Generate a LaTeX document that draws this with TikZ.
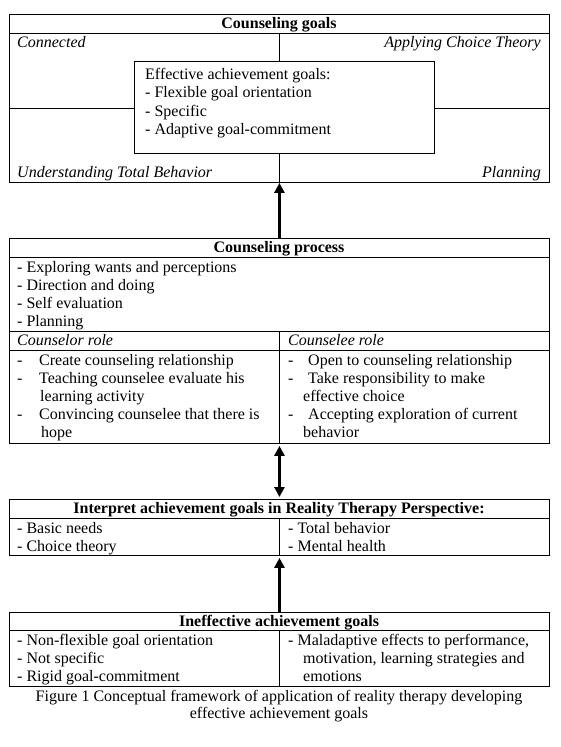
\documentclass[tikz,border=0pt]{standalone}
\usepackage{fontspec}
\setmainfont{Liberation Serif}
\usetikzlibrary{arrows.meta}
\begin{document}
\begin{tikzpicture}[x=1pt,y=-1pt,
  box/.style={draw, line width=0.9pt, inner sep=0pt, anchor=north west},
  rule/.style={line width=0.9pt},
  txt/.style={inner sep=0pt, anchor=base west, font=\fontsize{16}{18}\selectfont},
  txti/.style={inner sep=0pt, anchor=base west, font=\fontsize{16}{18}\selectfont\itshape},
  txtr/.style={inner sep=0pt, anchor=base east, font=\fontsize{16}{18}\selectfont\itshape},
  head/.style={inner sep=0pt, anchor=base, font=\fontsize{16}{18}\selectfont\bfseries},
  captxt/.style={inner sep=0pt, anchor=base, font=\fontsize{16}{18}\selectfont},
  arr/.style={line width=3.5pt, -{Triangle[width=10pt,length=10pt]}},
  darr/.style={line width=3.5pt, {Triangle[width=10pt,length=10pt]}-{Triangle[width=10pt,length=10pt]}}
]
\useasboundingbox (0,0) rectangle (561,747);
\fill[white] (0,0) rectangle (561,747);

% ---------- Box 1: Counseling goals ----------
\node[box, minimum width=540pt, minimum height=168pt] (b1) at (9,14) {};
\node[box, minimum width=300pt, minimum height=92pt] (inner) at (134,61) {};
\draw[rule] (9,33) -- (549,33);
\draw[rule] (279.5,33) -- (279.5,61);
\draw[rule] (279.5,153) -- (279.5,182);
\draw[rule] (9,108) -- (134,108);
\draw[rule] (434,108) -- (549,108);
\node[head] (h1) at (279,28) {Counseling goals};
\node[txti] (c1) at (17,47) {Connected};
\node[txtr] (c2) at (541,47) {Applying Choice Theory};
\node[txti] (c3) at (17,177) {Understanding Total Behavior};
\node[txtr] (c4) at (541,177) {Planning};
\node[txt] (e1) at (145,79) {Effective achievement goals:};
\node[txt] (e2) at (145,97) {- Flexible goal orientation};
\node[txt] (e3) at (145,116) {- Specific};
\node[txt] (e4) at (145,134) {- Adaptive goal-commitment};

% ---------- Box 2: Counseling process ----------
\node[box, minimum width=540pt, minimum height=205pt] (b2) at (9,238) {};
\draw[rule] (9,257) -- (549,257);
\draw[rule] (9,331) -- (549,331);
\draw[rule] (9,350) -- (549,350);
\draw[rule] (279.5,331) -- (279.5,443);
\node[head] (h2) at (279,252) {Counseling process};
\node[txt] (p1) at (17,272) {- Exploring wants and perceptions};
\node[txt] (p2) at (17,290) {- Direction and doing};
\node[txt] (p3) at (17,308) {- Self evaluation};
\node[txt] (p4) at (17,326) {- Planning};
\node[txti] (r1) at (17,345) {Counselor role};
\node[txti] (r2) at (288,345) {Counselee role};
\node[txt] (ld1) at (17,365) {-};
\node[txt] (l1) at (39,365) {Create counseling relationship};
\node[txt] (ld2) at (17,383) {-};
\node[txt] (l2) at (39,383) {Teaching counselee evaluate his};
\node[txt] (l2b) at (40,401) {learning activity};
\node[txt] (ld3) at (17,419) {-};
\node[txt] (l3) at (39,419) {Convincing counselee that there is};
\node[txt] (l3b) at (41,437) {hope};
\node[txt] (rd1) at (288,365) {-};
\node[txt] (q1) at (308,365) {Open to counseling relationship};
\node[txt] (rd2) at (288,383) {-};
\node[txt] (q2) at (308,383) {Take responsibility to make};
\node[txt] (q2b) at (303,401) {effective choice};
\node[txt] (rd3) at (288,419) {-};
\node[txt] (q3) at (308,419) {Accepting exploration of current};
\node[txt] (q3b) at (303,437) {behavior};

% ---------- Box 3: Interpret ----------
\node[box, minimum width=540pt, minimum height=56pt] (b3) at (9,499) {};
\draw[rule] (9,518) -- (549,518);
\draw[rule] (279.5,518) -- (279.5,555);
\node[head] (h3) at (279,513) {Interpret achievement goals in Reality Therapy Perspective:};
\node[txt] (i1) at (17,533) {- Basic needs};
\node[txt] (i2) at (17,551) {- Choice theory};
\node[txt] (i3) at (288,533) {- Total behavior};
\node[txt] (i4) at (288,551) {- Mental health};

% ---------- Box 4: Ineffective ----------
\node[box, minimum width=540pt, minimum height=74pt] (b4) at (9,612) {};
\draw[rule] (9,630) -- (549,630);
\draw[rule] (279.5,630) -- (279.5,686);
\node[head] (h4) at (279,626) {Ineffective achievement goals};
\node[txt] (n1) at (17,645) {- Non-flexible goal orientation};
\node[txt] (n2) at (17,663) {- Not specific};
\node[txt] (n3) at (17,681) {- Rigid goal-commitment};
\node[txt] (m1) at (288,645) {- Maladaptive effects to performance,};
\node[txt] (m2) at (303,663) {motivation, learning strategies and};
\node[txt] (m3) at (303,681) {emotions};

% ---------- Caption ----------
\node[captxt] (f1) at (279,701) {Figure 1 Conceptual framework of application of reality therapy developing};
\node[captxt] (f2) at (279,718) {effective achievement goals};

% ---------- Arrows ----------
\draw[arr] (b2.north) -- (b1.south);
\draw[darr, shorten <=2pt, shorten >=2pt] (b2.south) -- (b3.north);
\draw[arr, shorten >=2pt] (b4.north) -- (b3.south);
\end{tikzpicture}
\end{document}
